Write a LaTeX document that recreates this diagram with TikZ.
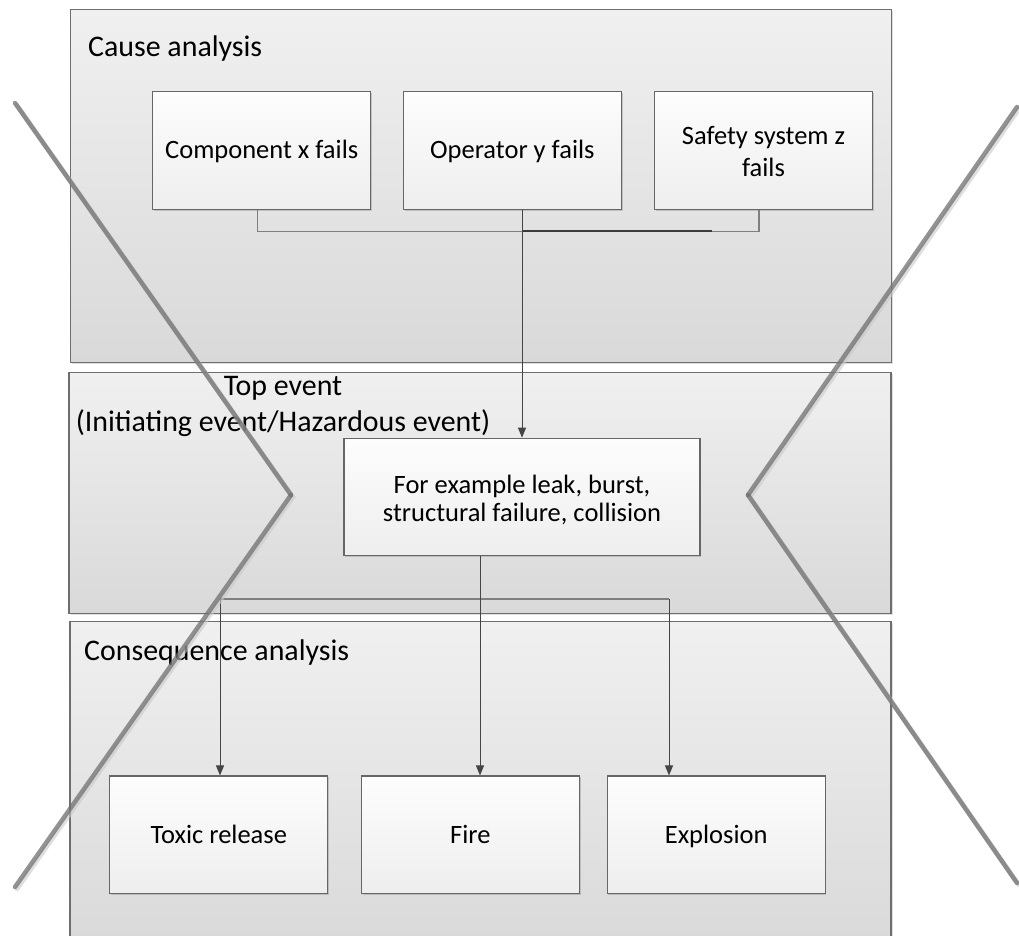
\documentclass[tikz,border=0pt]{standalone}
\usepackage{fontspec}
\setmainfont{Carlito}
\usetikzlibrary{arrows.meta,shadows}

\definecolor{panelTop}{HTML}{F0F0F0}
\definecolor{panelBot}{HTML}{D9D9D9}
\definecolor{panelLine}{HTML}{6E6E6E}
\definecolor{boxTop}{HTML}{FDFDFD}
\definecolor{boxBot}{HTML}{EEEEEE}
\definecolor{boxLine}{HTML}{666666}
\definecolor{flowLine}{HTML}{454545}
\definecolor{bracketLine}{HTML}{7F7F7F}
\definecolor{xLine}{HTML}{707070}
\definecolor{xShadow}{HTML}{C8C8C8}

\begin{document}
\begin{tikzpicture}[x=1pt,y=-1pt,
  panel/.style={draw=panelLine, line width=1.1pt, top color=panelTop, bottom color=panelBot,
    inner sep=0pt, drop shadow={shadow xshift=1.5pt, shadow yshift=-1.5pt, opacity=0.25}},
  box/.style={draw=boxLine, line width=1.1pt, top color=boxTop, bottom color=boxBot,
    inner sep=2pt, minimum width=218pt, minimum height=117.6pt,
    font=\fontsize{26.5pt}{32pt}\selectfont,
    drop shadow={shadow xshift=1.2pt, shadow yshift=-1.2pt, opacity=0.35}},
  single/.style={text height=20.5pt, text depth=3.5pt},
  title/.style={inner sep=0pt, font=\fontsize{29.9pt}{36pt}\selectfont},
  bracket/.style={draw=bracketLine, line width=1.2pt},
  flow/.style={draw=flowLine, line width=1pt, -{Triangle[length=10pt,width=8pt]}},
  darkseg/.style={draw=flowLine!85!black, line width=1.4pt},
  xline/.style={draw=xLine, line width=4.5pt, line cap=round, draw opacity=0.75},
  xshade/.style={draw=xShadow, line width=4.5pt, line cap=round, draw opacity=0.6}
]
\useasboundingbox (0,0) rectangle (1019,936);
\fill[white] (0,0) rectangle (1019,936);

% three stage panels
\node[panel, minimum width=821pt, minimum height=353.4pt] (cause) at (481,186) {};
\node[panel, minimum width=822pt, minimum height=240.6pt] (topev) at (480,493) {};
\node[panel, minimum width=821pt, minimum height=330pt] (conseq) at (480.5,786.7) {};

% panel headings
\node[title, anchor=base west] (causeT) at (88,56.5) {Cause analysis};
\node[title, anchor=base] (topT1) at (283,395.5) {Top event};
\node[title, anchor=base] (topT2) at (283,431.5) {(Initiating event/Hazardous event)};
\node[title, anchor=base west] (conseqT) at (84,660.5) {Consequence analysis};

% causes
\node[box, single] (comp) at (261.7,150.5) {Component x fails};
\node[box, single] (oper) at (512.3,150.5) {Operator y fails};
\node[box] (safe) at (763.5,150.5)
  {\raisebox{-4pt}[\height][\depth]{\begin{tabular}{@{}c@{}}Safety system z\\fails\end{tabular}}};

% top event
\node[box, minimum width=356pt, font=\fontsize{26.5pt}{27.5pt}\selectfont] (ev) at (522,497)
  {\raisebox{-5pt}[\height][\depth]{\begin{tabular}{@{}c@{}}For example leak, burst,\\structural failure, collision\end{tabular}}};

% consequences
\node[box, single] (tox) at (218.8,834.8) {Toxic release};
\node[box, single] (fire) at (470.3,834.8) {Fire};
\node[box, single] (expl) at (716.2,834.8) {Explosion};

% cause connectors
\draw[bracket] ([xshift=-4pt]comp.south) -- ++(0,22) -| ([xshift=-4.5pt]safe.south);
\coordinate (hubA) at (522,231);
\coordinate (hubB) at (712,231);
\draw[darkseg] (hubA) -- (hubB);
\draw[flow] (oper.south -| ev.north) -- (ev.north);

% consequence connectors
\coordinate (split) at (480,599);
\coordinate (lft) at (220,599);
\coordinate (rgt) at (669,599);
\draw[bracket] (lft) -- (rgt);
\draw[flow] (ev.south -| split) -- (fire.north -| split);
\draw[flow] (lft) -- (lft |- tox.north);
\draw[flow] (rgt) -- (rgt |- expl.north);

% bow-tie outline
\coordinate (L1) at (15,103);
\coordinate (LV) at (291,495);
\coordinate (L2) at (15,887);
\coordinate (R1) at (1017,107);
\coordinate (RV) at (748,495);
\coordinate (R2) at (1017,883);
\draw[xshade] ([shift={(2,2)}]L1) -- ([shift={(2,2)}]LV) -- ([shift={(2,2)}]L2);
\draw[xshade] ([shift={(2,2)}]R1) -- ([shift={(2,2)}]RV) -- ([shift={(2,2)}]R2);
\draw[xline] (L1) -- (LV);
\draw[xline] (LV) -- (L2);
\draw[xline] (R1) -- (RV);
\draw[xline] (RV) -- (R2);
\end{tikzpicture}
\end{document}
